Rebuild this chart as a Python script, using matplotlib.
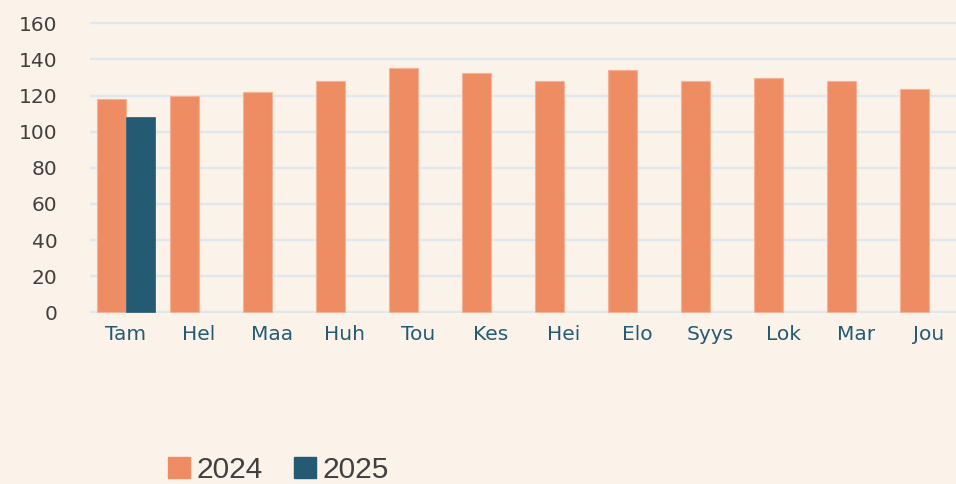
import matplotlib
matplotlib.use("Agg")
import matplotlib.pyplot as plt
from matplotlib.patches import Patch
import numpy as np

months = ["Tam", "Hel", "Maa", "Huh", "Tou", "Kes", "Hei", "Elo", "Syys", "Lok", "Mar", "Jou"]
values_2024 = [118, 120, 122, 128, 135.3, 132.5, 127.8, 134, 127.8, 129.6, 128.3, 123.5]
values_2025 = [108]
series_names = ["2024", "2025"]
y_ticks = [0, 20, 40, 60, 80, 100, 120, 140, 160]

bg = "#FBF2E9"
c24 = "#EE8D63"
c25 = "#245B73"
grid_c = "#DDE7ED"

W, H = 956, 484
fig = plt.figure(figsize=(W / 100, H / 100), dpi=100, facecolor=bg)
plt.rcParams["font.family"] = ["DejaVu Sans"]

y0px, y160px = 312.3, 23.3
ppu = (y0px - y160px) / 160
ylo, yhi = -0.6, 160.6
bottom_px = y0px + 0.6 * ppu
top_px = y160px - 0.6 * ppu
left_px = 89.5
ax = fig.add_axes([left_px / W, (H - bottom_px) / H, (W - left_px) / W, (bottom_px - top_px) / H])
ax.set_facecolor(bg)

x = np.arange(len(months))
bw = 0.4
ax.bar(x - bw / 2, values_2024, width=bw, color=c24, edgecolor="#F5B396", linewidth=0.8, zorder=3)
ax.bar(x[:len(values_2025)] + bw / 2, values_2025, width=bw, color=c25, edgecolor=c25, linewidth=0.5, zorder=3)

ax.set_xlim(-0.5, (W - 126) / 73.0)
ax.set_ylim(ylo, yhi)
ax.set_yticks(y_ticks)
ax.set_xticks(x)
ax.set_xticklabels(months)
ax.yaxis.grid(True, color=grid_c, linewidth=1.6, zorder=0)
ax.set_axisbelow(True)
for s in ax.spines.values():
    s.set_visible(False)
ax.tick_params(axis="y", length=0, pad=23, labelsize=14.5, labelcolor="#404040")
ax.tick_params(axis="x", length=0, pad=8.5, labelsize=14.5, labelcolor="#245B73")

handles = [Patch(facecolor=c24, edgecolor=c24), Patch(facecolor=c25, edgecolor=c25)]
leg = fig.legend(handles, series_names, loc="center left", bbox_to_anchor=(168 / W, (H - 470) / H),
                 ncol=2, frameon=False, prop={"family": "Liberation Sans", "size": 21.5},
                 handlelength=0.73, handleheight=0.73,
                 handletextpad=0.22, columnspacing=1.05, borderpad=0, borderaxespad=0)
for t in leg.get_texts():
    t.set_color("#404040")

fig.savefig("out.png", dpi=100, facecolor=bg)
